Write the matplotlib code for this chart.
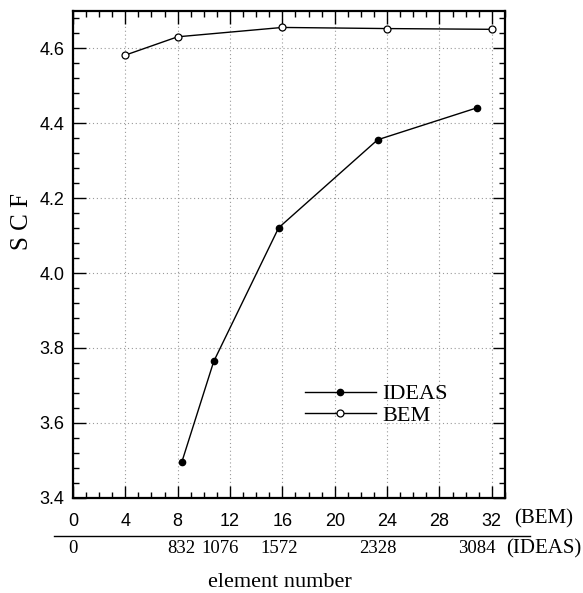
import numpy as np
import matplotlib.pyplot as plt
from matplotlib.ticker import MultipleLocator
from matplotlib.transforms import blended_transform_factory

SANS = "Liberation Sans"
SERIF = "Liberation Serif"

# BEM: element count on the top row of labels
bem_x = [4, 8, 16, 24, 32]
bem_scf = [4.582, 4.631, 4.656, 4.653, 4.651]

# IDEAS: element count on the lower row (plotted at count / 100)
ideas_elements = [832, 1076, 1572, 2328, 3084]
ideas_scf = [3.495, 3.764, 4.121, 4.356, 4.441]
ideas_x = np.array(ideas_elements) / 100.0

bem_ticks = list(range(0, 33, 4))
ideas_ticks = [0] + ideas_elements

fig = plt.figure(figsize=(5.83, 5.93), dpi=100)
ax = fig.add_axes([0.125, 0.1607, 0.741, 0.8208])

ax.plot(ideas_x, ideas_scf, color="black", lw=1.0, marker="o", ms=4.5,
        mfc="black", mec="black", label="IDEAS")
ax.plot(bem_x, bem_scf, color="black", lw=1.0, marker="o", ms=5,
        mfc="white", mec="black", mew=0.9, label="BEM")

ax.set_xlim(0, 33)
ax.set_ylim(3.4, 4.7)
ax.set_xticks(bem_ticks)
ax.xaxis.set_minor_locator(MultipleLocator(1))
ax.set_yticks(np.arange(3.4, 4.61, 0.2))
ax.yaxis.set_minor_locator(MultipleLocator(0.04))
ax.set_yticklabels([f"{v:.1f}" for v in np.arange(3.4, 4.61, 0.2)])

ax.tick_params(which="both", direction="in", top=True, right=True,
               width=1.0, color="black")
ax.tick_params(which="major", length=9)
ax.tick_params(which="minor", length=4)
ax.tick_params(axis="x", pad=11)
ax.tick_params(axis="y", pad=6)
for lab in ax.get_xticklabels() + ax.get_yticklabels():
    lab.set_fontfamily(SANS)
    lab.set_fontsize(13)
for s in ax.spines.values():
    s.set_linewidth(1.6)

ax.grid(True, which="major", color="#999999", ls=(0, (1, 2.5)), lw=0.8)

leg = ax.legend(loc="upper left", bbox_to_anchor=(0.49, 0.275), frameon=False,
                prop={"family": SERIF, "size": 16}, handlelength=3.2,
                handletextpad=0.3, labelspacing=0.05)

# second (IDEAS) scale below the axis
trans = blended_transform_factory(ax.transData, ax.transAxes)
ax.plot([-0.044, 1.058], [-0.079, -0.079], transform=ax.transAxes,
        color="black", lw=1.0, clip_on=False)
for e in ideas_ticks:
    nudge = 6 if e == 1076 else 0
    ax.annotate(str(e), (e / 100.0, -0.105), xycoords=trans,
                xytext=(nudge, 0), textcoords="offset pixels",
                ha="center", va="center", family=SERIF, fontsize=13.5)
ax.text(1.022, -0.043, "(BEM)", transform=ax.transAxes, ha="left",
        va="center", family=SERIF, fontsize=15)
ax.text(1.002, -0.105, "(IDEAS)", transform=ax.transAxes, ha="left",
        va="center", family=SERIF, fontsize=15)

fig.text(0.48, 0.018, "element number", ha="center", va="center",
         family=SERIF, fontsize=16)
fig.text(0.037, 0.626, "S C F", ha="center", va="center", rotation=90,
         family=SERIF, fontsize=18)

fig.savefig("out.png", dpi=100)
